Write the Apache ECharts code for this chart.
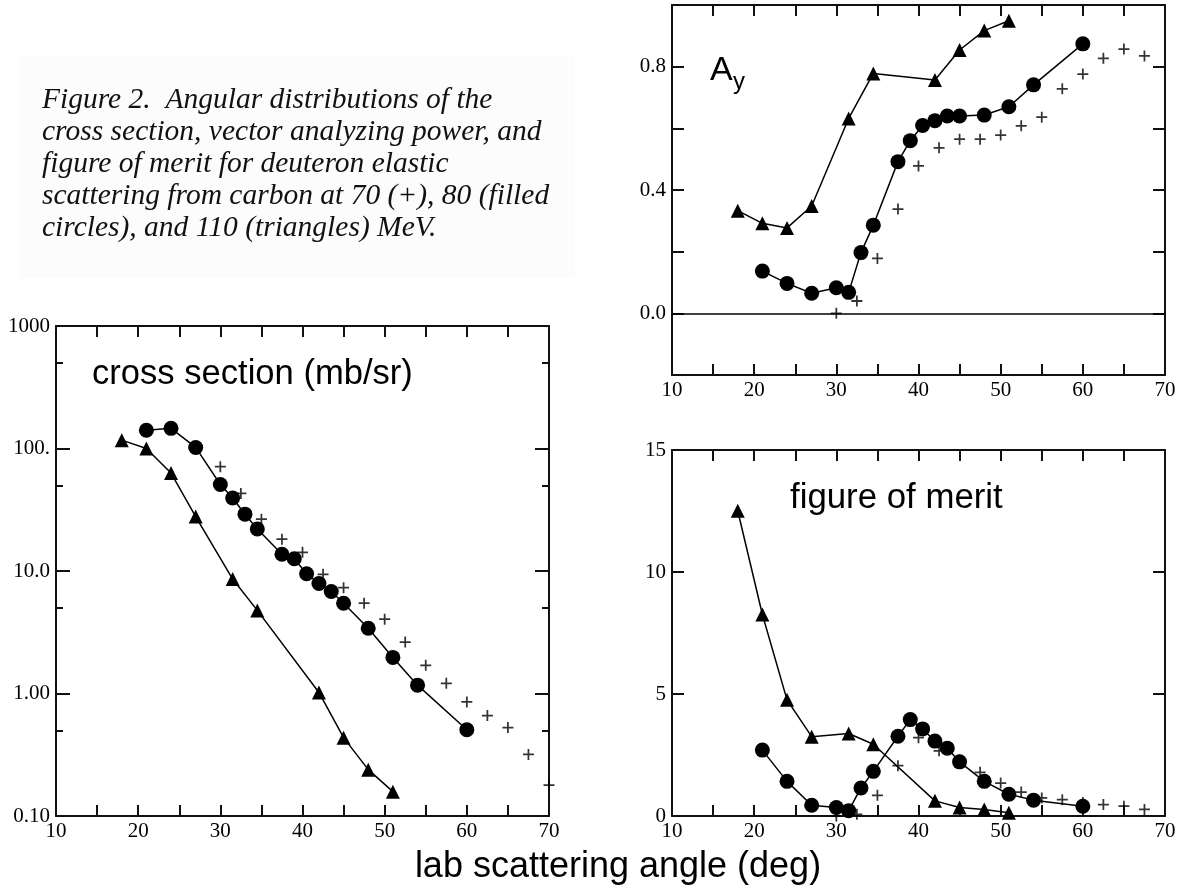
<!DOCTYPE html>
<html><head><meta charset="utf-8">
<script src="https://cdn.jsdelivr.net/npm/echarts@6/dist/echarts.min.js"></script>
<style>html,body{margin:0;padding:0;background:#fff}#c{width:1180px;height:896px}</style>
</head><body><div id="c"></div>
<script>
// ---------- data ----------
// x values (lab scattering angle, deg)
const triX  = [18, 21, 24, 27, 31.5, 34.5, 42, 45, 48, 51];                                   // 110 MeV
const circX = [21, 24, 27, 30, 31.5, 33, 34.5, 37.5, 39, 40.5, 42, 43.5, 45, 48, 51, 54, 60]; // 80 MeV
const plusXcs = [30, 32.5, 35, 37.5, 40, 42.5, 45, 47.5, 50, 52.5, 55, 57.5, 60, 62.5, 65, 67.5, 70]; // 70 MeV (cross section)
const plusX   = [30, 32.5, 35, 37.5, 40, 42.5, 45, 47.5, 50, 52.5, 55, 57.5, 60, 62.5, 65, 67.5];     // 70 MeV (Ay, FOM)

// cross section (mb/sr)
const csTri  = [117, 100, 63, 27.8, 8.6, 4.77, 1.02, 0.436, 0.239, 0.158];
const csCirc = [141, 146, 102, 50.8, 39.4, 29.1, 22, 13.7, 12.6, 9.5, 7.9, 6.8, 5.46, 3.41, 1.97, 1.17, 0.506];
const csPlus = [71, 43, 26.5, 18.2, 14.2, 9.4, 7.3, 5.46, 4.04, 2.63, 1.70, 1.21, 0.853, 0.66, 0.527, 0.318, 0.179];

// vector analyzing power Ay
const ayTri  = [0.333, 0.292, 0.277, 0.348, 0.632, 0.778, 0.757, 0.854, 0.917, 0.949];
const ayCirc = [0.137, 0.097, 0.065, 0.083, 0.068, 0.197, 0.286, 0.492, 0.56, 0.609, 0.625, 0.64, 0.64, 0.643, 0.670, 0.741, 0.874];
const ayPlus = [0.0, 0.04, 0.178, 0.338, 0.478, 0.537, 0.565, 0.565, 0.578, 0.608, 0.636, 0.728, 0.776, 0.827, 0.857, 0.835];

// figure of merit
const fomTri  = [12.51, 8.26, 4.76, 3.25, 3.38, 2.94, 0.62, 0.35, 0.27, 0.13];
const fomCirc = [2.70, 1.42, 0.44, 0.35, 0.22, 1.15, 1.83, 3.27, 3.95, 3.57, 3.07, 2.78, 2.22, 1.42, 0.89, 0.65, 0.40];
const fomPlus = [0.0, 0.07, 0.85, 2.06, 3.21, 2.67, 2.3, 1.79, 1.35, 0.98, 0.74, 0.67, 0.55, 0.47, 0.40, 0.27];

// tick labels
const xTickValues  = [10, 20, 30, 40, 50, 60, 70];
const xTickLabels  = ['10', '20', '30', '40', '50', '60', '70'];
const csTickValues = [0.1, 1, 10, 100, 1000];
const csTickLabels = ['0.10', '1.00', '10.0', '100.', '1000'];
const csMinorTicks = [0.5, 5, 50, 500];
const ayTickValues = [0, 0.4, 0.8];
const ayTickLabels = ['0.0', '0.4', '0.8'];
const fomTickValues = [0, 5, 10, 15];
const fomTickLabels = ['0', '5', '10', '15'];

const captionLines = [
  'Figure 2.  Angular distributions of the',
  'cross section, vector analyzing power, and',
  'figure of merit for deuteron elastic',
  'scattering from carbon at 70 (+), 80 (filled',
  'circles), and 110 (triangles) MeV.'
];
const panelTitleCS = 'cross section (mb/sr)';
const panelTitleFOM = 'figure of merit';
const xTitle = 'lab scattering angle (deg)';

// ---------- helpers ----------
const zip = (xs, ys) => xs.map((x, i) => [x, ys[i]]);
const lookup = (vals, labels) => v => {
  for (let i = 0; i < vals.length; i++) if (Math.abs(vals[i] - v) < 1e-6 * Math.max(1, Math.abs(v))) return labels[i];
  return '';
};
const AX = '#111';
const axisLine = {show: true, onZero: false, lineStyle: {color: AX, width: 2}};
const labelFont = {color: '#000', fontFamily: 'Liberation Serif', fontSize: 21};

function xAxesFor(gi) {
  return [
    {type: 'value', gridIndex: gi, position: 'bottom', min: 10, max: 70, interval: 5,
      axisLine, axisTick: {show: true, inside: true, length: 11, lineStyle: {color: AX, width: 2}},
      axisLabel: Object.assign({interval: 0, margin: 5, formatter: lookup(xTickValues, xTickLabels)}, labelFont),
      splitLine: {show: false}},
    {type: 'value', gridIndex: gi, position: 'top', min: 10, max: 70, interval: 5,
      axisLine, axisTick: {show: true, inside: true, length: 11, lineStyle: {color: AX, width: 2}},
      axisLabel: {show: false}, splitLine: {show: false}}
  ];
}
function yLinearFor(gi, min, max, interval, vals, labels) {
  return [
    {type: 'value', gridIndex: gi, position: 'left', min, max, interval,
      axisLine, axisTick: {show: true, inside: true, length: 12, lineStyle: {color: AX, width: 2}},
      axisLabel: Object.assign({interval: 0, margin: 6, formatter: lookup(vals, labels)}, labelFont),
      splitLine: {show: false}},
    {type: 'value', gridIndex: gi, position: 'right', min, max, interval,
      axisLine, axisTick: {show: true, inside: true, length: 12, lineStyle: {color: AX, width: 2}},
      axisLabel: {show: false}, splitLine: {show: false}}
  ];
}
function yLogFor(gi) {
  const base = {type: 'log', logBase: 10, gridIndex: gi, min: 0.1, max: 1000, splitLine: {show: false}};
  return [
    Object.assign({}, base, {position: 'left', axisLine,
      axisTick: {show: true, inside: true, length: 14, customValues: csTickValues, lineStyle: {color: AX, width: 2}},
      axisLabel: Object.assign({margin: 6, customValues: csTickValues, formatter: lookup(csTickValues, csTickLabels)}, labelFont)}),
    Object.assign({}, base, {position: 'right', axisLine,
      axisTick: {show: true, inside: true, length: 14, customValues: csTickValues, lineStyle: {color: AX, width: 2}},
      axisLabel: {show: false}}),
    Object.assign({}, base, {position: 'left', axisLine: {show: false},
      axisTick: {show: true, inside: true, length: 7, customValues: csMinorTicks, lineStyle: {color: AX, width: 2}},
      axisLabel: {show: false}}),
    Object.assign({}, base, {position: 'right', axisLine: {show: false},
      axisTick: {show: true, inside: true, length: 7, customValues: csMinorTicks, lineStyle: {color: AX, width: 2}},
      axisLabel: {show: false}})
  ];
}

const PLUS = 'path://M4.2,0 H5.8 V4.2 H10 V5.8 H5.8 V10 H4.2 V5.8 H0 V4.2 H4.2 Z';
function lineSeries(xi, yi, data, symbol, size) {
  return {type: 'line', xAxisIndex: xi, yAxisIndex: yi, data, symbol, symbolSize: size,
    showSymbol: true, showAllSymbol: true, lineStyle: {color: '#000', width: 1.5},
    itemStyle: {color: '#000'}, z: 3, animation: false, silent: true};
}
function plusSeries(xi, yi, data) {
  return {type: 'scatter', xAxisIndex: xi, yAxisIndex: yi, data, symbol: PLUS, symbolSize: 11,
    itemStyle: {color: '#000'}, z: 4, animation: false, silent: true};
}

const xAxis = [].concat(xAxesFor(0), xAxesFor(1), xAxesFor(2)); // 0,1 | 2,3 | 4,5
const yAxis = [].concat(
  yLogFor(0),                                                        // 0..3
  yLinearFor(1, -0.2, 1.0, 0.2, ayTickValues, ayTickLabels),         // 4,5
  yLinearFor(2, 0, 15, 5, fomTickValues, fomTickLabels)              // 6,7
);

const ayCircSeries = lineSeries(2, 4, zip(circX, ayCirc), 'circle', 15);
ayCircSeries.markLine = {silent: true, symbol: 'none', label: {show: false},
  lineStyle: {color: '#000', width: 1.5, type: 'solid'}, data: [{yAxis: 0}], animation: false};

const series = [
  lineSeries(0, 0, zip(triX, csTri), 'triangle', 14),
  lineSeries(0, 0, zip(circX, csCirc), 'circle', 15),
  plusSeries(0, 0, zip(plusXcs, csPlus)),
  lineSeries(2, 4, zip(triX, ayTri), 'triangle', 14),
  ayCircSeries,
  plusSeries(2, 4, zip(plusX, ayPlus)),
  lineSeries(4, 6, zip(triX, fomTri), 'triangle', 14),
  lineSeries(4, 6, zip(circX, fomCirc), 'circle', 15),
  plusSeries(4, 6, zip(plusX, fomPlus))
];

const graphic = [
  {type: 'rect', shape: {x: 20, y: 56, width: 555, height: 222}, style: {fill: '#fcfcfc'}, z: -10, silent: true}
].concat(captionLines.map((t, i) => ({
  type: 'text', x: 42, y: 100 + i * 32, silent: true,
  style: {text: t, font: 'italic 29.5px "Liberation Serif"', fill: '#111', align: 'left', verticalAlign: 'middle',
    textAlign: 'left', textVerticalAlign: 'middle'}
}))).concat([
  {type: 'text', x: 92, y: 374, silent: true, style: {text: panelTitleCS, font: '34.6px "Liberation Sans"', fill: '#000',
    align: 'left', verticalAlign: 'middle', textAlign: 'left', textVerticalAlign: 'middle'}},
  {type: 'text', x: 790, y: 498, silent: true, style: {text: panelTitleFOM, font: '34.8px "Liberation Sans"', fill: '#000',
    align: 'left', verticalAlign: 'middle', textAlign: 'left', textVerticalAlign: 'middle'}},
  {type: 'text', x: 710, y: 71, silent: true, style: {text: 'A', font: '34px "Liberation Sans"', fill: '#000',
    align: 'left', verticalAlign: 'middle', textAlign: 'left', textVerticalAlign: 'middle'}},
  {type: 'text', x: 733, y: 82, silent: true, style: {text: 'y', font: '24px "Liberation Sans"', fill: '#000',
    align: 'left', verticalAlign: 'middle', textAlign: 'left', textVerticalAlign: 'middle'}},
  {type: 'text', x: 618, y: 867, silent: true, style: {text: xTitle, font: '36px "Liberation Sans"', fill: '#000',
    align: 'center', verticalAlign: 'middle', textAlign: 'center', textVerticalAlign: 'middle'}}
]);

const chart = echarts.init(document.getElementById('c'), null, {renderer: 'canvas'});
chart.setOption({
  backgroundColor: '#fff',
  animation: false,
  grid: [
    {left: 56, top: 326, width: 493, height: 490, containLabel: false},
    {left: 672, top: 5, width: 493, height: 370, containLabel: false},
    {left: 672, top: 450, width: 493, height: 366, containLabel: false}
  ],
  xAxis, yAxis, series, graphic
});
</script></body></html>
